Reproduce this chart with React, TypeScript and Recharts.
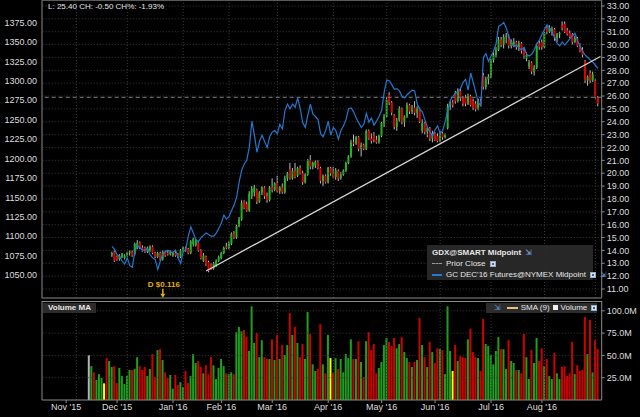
import React from "react";
import {
  ComposedChart,
  Bar,
  Line,
  XAxis,
  YAxis,
  ReferenceLine,
  ReferenceDot,
  Cell,
} from "recharts";

const FONT = "'Liberation Sans', Arial, sans-serif";
const AXIS = "#8a8a8a";
const GRID = "#3c3c3c";
const TXT = "#dedede";

// slot index 0 = first trading day of Nov 2015
const FIRST_SLOT = -9;
const LAST_SLOT = 210;
const GDX_START = 18;
const VOL_START = 9;

const monthTicks = [0, 20, 42, 61, 81, 103, 124, 145, 167, 187];
const monthLabels = ["Nov '15", "Dec '15", "Jan '16", "Feb '16", "Mar '16", "Apr '16", "May '16", "Jun '16", "Jul '16", "Aug '16"];
const gridDays = [4, 24, 46, 64, 83, 105, 126, 147, 167, 188, 208];
const goldTicks = [1050, 1075, 1100, 1125, 1150, 1175, 1200, 1225, 1250, 1275, 1300, 1325, 1350, 1375];
const gdxTicks = [11, 12, 13, 14, 15, 16, 17, 18, 19, 20, 21, 22, 23, 24, 25, 26, 27, 28, 29, 30, 31, 32, 33];
const volTicks = [25, 50, 75, 100];

const priorClose = 25.9;
const trendFrom = { i: 55, v: 12.4 };
const trendTo = { i: 210, v: 29.07 };
const dividend = { i: 38, label: "D $0.116" };

// GDX@SMART midpoint candles: [open, high, low, close]
const gdxOHLC = [
  [13.6, 13.9, 13.5, 13.8], [13.9, 14.0, 13.1, 13.2], [13.5, 13.6, 13.2, 13.3], [13.3, 13.7, 13.2, 13.6], [13.5, 13.8, 13.4, 13.7],
  [13.4, 13.7, 13.3, 13.6], [13.6, 13.9, 13.5, 13.8], [13.8, 14.0, 13.6, 13.9], [13.9, 14.0, 13.5, 13.6], [13.7, 14.6, 13.6, 14.5],
  [14.2, 14.8, 14.1, 14.6], [14.6, 14.7, 14.1, 14.2], [14.2, 14.4, 13.9, 14.0], [14.2, 14.3, 13.8, 13.9], [13.9, 14.3, 13.8, 14.2],
  [14.0, 14.4, 13.9, 14.3], [14.3, 14.4, 13.7, 13.8], [13.8, 13.9, 13.4, 13.5], [13.5, 13.9, 13.4, 13.8], [13.8, 13.9, 13.2, 13.3],
  [13.3, 14.0, 13.2, 13.9], [13.9, 14.0, 13.5, 13.6], [13.8, 14.0, 13.6, 13.7], [13.7, 14.0, 13.6, 13.9], [13.6, 13.9, 13.5, 13.8],
  [13.8, 14.0, 13.5, 13.6], [13.7, 13.8, 13.4, 13.5], [13.5, 14.1, 13.4, 14.0], [14.0, 14.3, 13.9, 14.2], [14.2, 14.3, 13.9, 14.0],
  [14.1, 14.2, 13.7, 13.8], [13.8, 14.8, 13.7, 14.7], [14.5, 15.0, 14.3, 14.9], [14.4, 14.9, 14.3, 14.7], [14.6, 14.7, 13.9, 14.0],
  [14.0, 14.1, 13.3, 13.4], [13.2, 13.8, 13.1, 13.6], [13.5, 13.6, 12.8, 12.9], [13.1, 13.2, 12.3, 12.4], [12.9, 13.0, 12.5, 12.6],
  [12.6, 13.1, 12.5, 13.0], [12.8, 13.3, 12.7, 13.2], [13.2, 13.6, 13.1, 13.5], [13.4, 13.9, 13.3, 13.8], [13.8, 14.3, 13.7, 14.2],
  [14.3, 14.6, 14.1, 14.2], [14.2, 14.7, 14.1, 14.6], [14.5, 15.4, 14.4, 15.3], [15.3, 15.5, 14.9, 15.0], [15.0, 16.0, 14.9, 15.9],
  [15.9, 16.6, 15.8, 16.4], [16.4, 17.9, 16.3, 17.7], [17.8, 17.9, 17.2, 17.3], [17.6, 17.8, 17.0, 17.1], [17.1, 18.6, 17.0, 18.4],
  [18.2, 19.0, 18.0, 18.8], [18.5, 19.1, 18.2, 18.9], [18.7, 18.8, 17.6, 17.8], [17.8, 18.6, 17.7, 18.5], [18.5, 19.0, 18.3, 18.9],
  [18.9, 19.0, 18.0, 18.2], [18.2, 18.5, 17.7, 17.9], [17.9, 19.0, 17.8, 18.9], [18.9, 19.6, 18.5, 18.7], [18.7, 19.3, 18.6, 19.2],
  [19.2, 19.8, 18.5, 18.6], [18.6, 19.0, 18.4, 18.9], [18.9, 19.2, 18.4, 18.5], [18.5, 19.8, 18.4, 19.6], [19.6, 20.1, 19.4, 20.0],
  [20.3, 20.8, 19.5, 19.6], [19.6, 20.4, 19.5, 20.2], [20.2, 20.8, 19.6, 19.7], [19.8, 20.5, 19.7, 20.4], [20.4, 20.6, 19.9, 20.0],
  [20.0, 20.2, 19.1, 19.3], [19.3, 20.0, 19.2, 19.9], [19.9, 21.1, 19.8, 21.0], [21.0, 21.4, 20.3, 20.5], [20.5, 20.9, 20.3, 20.8],
  [20.6, 21.0, 20.4, 20.9], [20.9, 21.0, 20.3, 20.4], [20.4, 20.5, 19.2, 19.4], [19.4, 19.9, 19.0, 19.8], [19.8, 19.9, 19.2, 19.3],
  [19.3, 20.5, 19.2, 20.4], [20.4, 20.5, 19.8, 20.0], [20.0, 20.5, 19.6, 19.7], [19.7, 20.4, 19.5, 20.2], [20.2, 20.3, 19.4, 19.6],
  [19.6, 20.1, 19.5, 19.9], [19.9, 20.3, 19.8, 20.2], [20.2, 20.9, 20.1, 20.8], [20.8, 21.4, 20.7, 21.3], [21.3, 22.6, 21.2, 22.4],
  [22.4, 23.0, 22.1, 22.3], [22.3, 22.9, 22.2, 22.8], [22.8, 22.9, 21.7, 21.9], [21.9, 22.4, 21.3, 22.2], [22.2, 22.3, 21.8, 21.9],
  [21.9, 23.4, 21.8, 23.3], [23.3, 23.4, 22.6, 22.7], [22.7, 23.1, 22.3, 22.5], [22.9, 23.2, 22.4, 22.6], [22.6, 22.9, 22.3, 22.4],
  [22.4, 23.0, 22.3, 22.9], [22.9, 24.0, 22.8, 23.9], [23.9, 24.6, 23.6, 24.4], [24.4, 25.9, 24.3, 25.7], [26.1, 26.3, 25.3, 25.5],
  [25.5, 25.6, 24.5, 24.7], [24.5, 24.6, 23.4, 23.6], [23.6, 24.3, 23.3, 24.1], [24.1, 25.2, 24.0, 25.0], [25.0, 25.1, 23.8, 24.0],
  [24.0, 24.5, 23.6, 24.4], [24.4, 25.5, 24.3, 25.3], [25.3, 25.4, 24.6, 24.8], [24.8, 25.3, 24.6, 25.1], [25.1, 25.6, 24.5, 24.7],
  [24.7, 25.2, 24.3, 25.0], [25.0, 25.1, 23.9, 24.0], [23.3, 24.2, 23.1, 23.9], [23.9, 24.0, 23.0, 23.2], [23.2, 23.6, 22.8, 23.5],
  [23.5, 23.6, 22.5, 22.7], [22.7, 23.3, 22.4, 23.1], [23.1, 23.2, 22.5, 22.6], [22.9, 23.1, 22.4, 22.5], [22.5, 23.3, 22.4, 23.1],
  [23.1, 23.2, 22.6, 22.8], [22.8, 23.1, 22.7, 23.0], [23.5, 25.4, 23.4, 25.2], [25.2, 25.6, 24.9, 25.5], [25.5, 25.7, 25.1, 25.3],
  [26.2, 26.4, 25.4, 25.6], [25.6, 26.6, 25.5, 26.4], [26.4, 26.6, 25.6, 25.8], [25.8, 26.0, 25.2, 25.4], [25.9, 26.1, 25.2, 25.4],
  [25.4, 26.2, 25.3, 26.0], [26.0, 26.1, 25.2, 25.3], [25.6, 25.8, 24.9, 25.1], [25.4, 25.6, 24.8, 25.0], [25.0, 25.8, 24.9, 25.6],
  [25.6, 25.8, 25.2, 25.4], [27.6, 27.8, 26.5, 26.7], [26.7, 27.5, 26.5, 27.3], [27.3, 27.7, 26.9, 27.5], [27.5, 28.9, 27.4, 28.8],
  [28.8, 29.4, 28.6, 29.2], [29.2, 29.8, 29.0, 29.6], [29.6, 30.6, 29.5, 30.4], [30.4, 30.6, 29.8, 30.0], [30.0, 30.8, 29.7, 30.6],
  [30.6, 30.9, 30.1, 30.7], [30.7, 30.8, 29.7, 29.9], [29.9, 30.4, 29.7, 30.3], [29.9, 30.5, 29.8, 30.2], [30.2, 30.3, 29.6, 29.8],
  [29.8, 30.3, 29.5, 30.1], [30.1, 30.2, 29.3, 29.5], [29.5, 29.7, 28.9, 29.1], [28.9, 29.4, 28.7, 29.2], [28.3, 28.8, 28.1, 28.6],
  [28.6, 28.7, 27.7, 27.9], [27.9, 28.4, 27.6, 28.2], [28.2, 30.1, 28.1, 29.9], [30.1, 30.3, 29.6, 29.8], [30.2, 30.4, 29.6, 29.8],
  [29.8, 31.0, 29.7, 30.9], [31.3, 31.5, 30.8, 31.0], [31.0, 31.5, 30.9, 31.3], [30.9, 31.4, 30.7, 31.2], [31.2, 31.3, 30.3, 30.5],
  [30.5, 30.9, 30.2, 30.8], [30.8, 31.0, 30.5, 30.9], [31.5, 31.8, 31.1, 31.3], [31.6, 31.8, 30.9, 31.0], [31.1, 31.3, 30.7, 30.8],
  [30.9, 31.1, 30.5, 30.6], [30.8, 30.9, 30.0, 30.2], [30.2, 30.7, 30.1, 30.5], [30.5, 30.6, 29.8, 29.9], [29.9, 30.1, 29.4, 29.5],
  [29.6, 29.8, 29.0, 29.2], [28.7, 28.8, 27.0, 27.2], [27.2, 27.6, 26.8, 27.5], [27.8, 28.0, 27.0, 27.2], [27.2, 27.9, 27.1, 27.7],
  [27.2, 27.3, 25.8, 25.9], [25.9, 26.0, 25.2, 25.4],
];

// GC DEC'16 Futures@NYMEX midpoint
const goldMid = [
  1087, 1083, 1076, 1074, 1068, 1064, 1072, 1062, 1060, 1080,
  1088, 1085, 1082, 1082, 1084, 1076, 1072, 1070, 1057, 1068,
  1077, 1080, 1082, 1080, 1079, 1082, 1072, 1065, 1080, 1083,
  1100, 1112, 1104, 1095, 1093, 1098, 1101, 1104, 1102, 1100,
  1100, 1104, 1110, 1117, 1127, 1122, 1125, 1133, 1140, 1150,
  1170, 1185, 1193, 1198, 1215, 1248, 1230, 1208, 1222, 1230,
  1222, 1214, 1228, 1234, 1236, 1232, 1244, 1238, 1262, 1270,
  1264, 1270, 1266, 1278, 1264, 1246, 1240, 1256, 1270, 1257,
  1254, 1250, 1232, 1228, 1236, 1248, 1230, 1240, 1236, 1225,
  1236, 1242, 1250, 1264, 1265, 1260, 1252, 1246, 1240, 1244,
  1258, 1247, 1252, 1243, 1248, 1254, 1262, 1285, 1301, 1300,
  1295, 1289, 1290, 1287, 1280, 1278, 1282, 1285, 1288, 1287,
  1270, 1263, 1260, 1250, 1240, 1234, 1229, 1237, 1242, 1232,
  1236, 1248, 1262, 1275, 1280, 1284, 1286, 1290, 1298, 1302,
  1288, 1310, 1298, 1285, 1272, 1268, 1330, 1335, 1325, 1332,
  1338, 1348, 1370, 1372, 1375, 1368, 1356, 1350, 1344, 1346,
  1342, 1340, 1343, 1334, 1332, 1334, 1340, 1348, 1352, 1360,
  1366, 1372, 1368, 1362, 1356, 1348, 1345, 1350, 1346, 1350,
  1354, 1358, 1361, 1352, 1344, 1338, 1333, 1330, 1327, 1324,
  1320, 1316,
];

// volume in millions
const volume = [
  50.4, 38, 31, 22.4, 29, 24.7, 18.7, 47, 43.7, 37,
  38, 19, 36, 27, 18, 27, 33.6, 33.6, 34.7, 48,
  38, 33.6, 37, 27, 34.7, 51.6, 25.8, 56, 57, 44.8,
  31, 24.7, 28, 12.7, 28, 16.8, 20, 14.6, 32.5, 19,
  27, 51.6, 41.5, 43.7, 37, 30, 39, 29, 48, 39,
  23.5, 36, 46, 38, 30, 29, 31, 29, 76,
  82, 77, 78.5, 70.6, 55, 105, 64, 75, 48, 67,
  48, 46, 46, 68, 44.8, 73, 46, 61.6, 50.4, 61.6,
  97.5, 73, 82, 64, 48, 62.8, 46, 98.6, 74,
  40, 32.5, 34.7,
  85, 40, 30, 73, 47, 30, 47, 34.7, 46, 31,
  51.6, 47, 68, 46, 46, 66, 42.6, 25.8, 66, 76,
  56, 62.8, 30, 36, 42.6, 61.6, 69.5, 65, 60.5, 69.5,
  58, 62.8, 70.6, 53.8, 47, 42.6, 37, 42.6, 44.8, 92,
  61.6, 48, 37, 65, 53.8, 41.5, 58, 57, 56, 29,
  105, 55, 32.5, 61.6, 43.7, 49, 48, 47, 68, 80,
  53.8, 48, 47, 32.5, 91, 62.8, 60.5, 50.4, 40,
  55, 70.6, 57, 57, 34.7, 67, 43.7, 41.5, 33.6,
  33.6, 30, 74, 48, 23.5, 56, 41.5, 69.5, 43.7, 58,
  38, 46, 27, 23.5, 52.6, 30, 23.5, 37,
  38, 27, 30, 65, 29, 39, 32.5, 33.6, 93, 51.6, 90, 31, 67, 57,
];

// w = grey, g = up, r = down, y = yellow
const volColors = [
  "wgrgggyrgg", "rrgggggrgg", "rrrggrrgrg", "rrggrrggrr", "gggrrgrrrg",
  "ggggrggrg", "ggrrgggrgg", "rrgrgrgrgg", "rgrg", "rrggr", "ggr",
  "rgrgyrgrgg", "gggrgrgrgr", "rrrggggrrr", "ggrggrgrgr", "grgrgrrgrg",
  "ggyrgrrrgr", "rrgrrgggg", "ggrggrggr", "grrggrggrr", "grggrggr",
  "rrrrgrrrrgrgrr",
].join("");

const VOL_FILL: Record<string, string> = {
  w: "#b4b4b4",
  g: "#1f9f1f",
  r: "#d00000",
  y: "#ffff00",
};

const slots = Array.from({ length: LAST_SLOT - FIRST_SLOT + 1 }, (_, k) => FIRST_SLOT + k);

const priceRows = slots.map((i) => {
  const bar = gdxOHLC[i - GDX_START];
  const g = goldMid[i - GDX_START];
  if (!bar) return { i, gold: null };
  return { i, o: bar[0], h: bar[1], l: bar[2], c: bar[3], hl: [bar[2], bar[1]], gold: g };
});

const volRows = slots.map((i) => ({
  i,
  vol: volume[i - VOL_START] ?? null,
  col: volColors[i - VOL_START] ?? "",
}));

function Candle(props: any) {
  const { x, y, width, height, payload } = props;
  if (!payload || payload.o == null) return <g />;
  const { o, h, l, c } = payload;
  const top = height < 0 ? y + height : y;
  const hh = Math.abs(height);
  const k = h > l ? hh / (h - l) : 0;
  const cx = x + width / 2;
  const bTop = top + (h - Math.max(o, c)) * k;
  const bBot = top + (h - Math.min(o, c)) * k;
  return (
    <g>
      <line x1={cx} x2={cx} y1={top} y2={top + hh} stroke="#bdbdbd" strokeWidth={1} />
      <rect
        x={cx - 1}
        y={bTop}
        width={2}
        height={Math.max(1, bBot - bTop)}
        fill={c >= o ? "#22b422" : "#e00000"}
      />
    </g>
  );
}

function DividendMark(props: any) {
  const { cx, cy } = props;
  const col = "#e3b00c";
  return (
    <g>
      <text x={cx + 1} y={cy - 10} fill={col} fontSize={8} fontWeight="bold" textAnchor="middle" fontFamily={FONT}>
        {dividend.label}
      </text>
      <line x1={cx} x2={cx} y1={cy - 8} y2={cy - 2} stroke={col} strokeWidth={1.5} />
      <path d={`M${cx - 2.5},${cy - 3} L${cx + 2.5},${cy - 3} L${cx},${cy + 1} Z`} fill={col} />
    </g>
  );
}

function CheckBox({ on = true }: { on?: boolean }) {
  return (
    <span
      style={{
        display: "inline-block",
        width: 6,
        height: 6,
        marginLeft: 4,
        background: on ? "#d8e4f4" : "#f0f0f0",
        border: "1px solid #9ab",
        boxSizing: "border-box",
        verticalAlign: "middle",
        position: "relative",
      }}
    >
      {on && (
        <span style={{ position: "absolute", left: 1, top: 1, width: 2, height: 2, background: "#2a62b8" }} />
      )}
    </span>
  );
}

function Grab() {
  return <span style={{ color: "#6a9fd8", fontSize: 8, marginLeft: 4, fontFamily: "DejaVu Sans" }}>⇲</span>;
}

const tickStyle = { fill: TXT, fontSize: 9, fontFamily: FONT };

export default function App() {
  return (
    <div
      style={{
        position: "fixed",
        left: 0,
        top: 0,
        width: 640,
        height: 417,
        background: "#000",
        fontFamily: FONT,
        overflow: "hidden",
      }}
    >
      <div style={{ position: "absolute", left: 0, top: 0 }}>
        <ComposedChart width={640} height={299} data={priceRows} margin={{ top: 0, right: 0, bottom: 0, left: 0 }}>
          <XAxis dataKey="i" type="category" height={1} tick={false} tickLine={false} axisLine={{ stroke: AXIS }} />
          <YAxis
            yAxisId="gold"
            orientation="left"
            width={42}
            domain={[1020.4, 1404]}
            ticks={goldTicks}
            interval={0}
            allowDataOverflow
            tickFormatter={(v: number) => v.toFixed(2)}
            tick={tickStyle}
            tickSize={3}
            tickMargin={2}
            tickLine={false}
            axisLine={{ stroke: AXIS }}
          />
          <YAxis
            yAxisId="gdx"
            orientation="right"
            width={38.3}
            domain={[10.3, 33.466]}
            ticks={gdxTicks}
            interval={0}
            allowDataOverflow
            tickFormatter={(v: number) => v.toFixed(2)}
            tick={tickStyle}
            tickSize={3}
            tickMargin={2}
            tickLine={{ stroke: AXIS }}
            axisLine={{ stroke: AXIS }}
          />
          {gdxTicks.map((t) => (
            <ReferenceLine key={"h" + t} yAxisId="gdx" y={t} stroke={GRID} strokeDasharray="1 2" />
          ))}
          {gridDays.map((d) => (
            <ReferenceLine key={"v" + d} yAxisId="gdx" x={d} stroke={GRID} strokeDasharray="1 2" />
          ))}
          <ReferenceLine yAxisId="gdx" y={priorClose} stroke="#7c7c7c" strokeDasharray="4 3" />
          <Bar
            yAxisId="gdx"
            dataKey="hl"
            barSize={3}
            shape={(p: any) => <Candle {...p} />}
            isAnimationActive={false}
          />
          <Line
            yAxisId="gold"
            dataKey="gold"
            stroke="#2378cf"
            strokeWidth={1.2}
            dot={false}
            activeDot={false}
            isAnimationActive={false}
          />
          <ReferenceLine
            yAxisId="gdx"
            segment={[
              { x: trendFrom.i, y: trendFrom.v },
              { x: trendTo.i, y: trendTo.v },
            ]}
            stroke="#d6d6d6"
            strokeWidth={1.3}
          />
          <ReferenceDot yAxisId="gdx" x={dividend.i} y={10.4} shape={(p: any) => <DividendMark {...p} />} />
        </ComposedChart>
      </div>

      <div style={{ position: "absolute", left: 0, top: 301 }}>
        <ComposedChart width={640} height={113} data={volRows} margin={{ top: 0, right: 0, bottom: 0, left: 0 }}>
          <XAxis
            dataKey="i"
            type="category"
            ticks={monthTicks}
            interval={0}
            tickFormatter={(v: number) => monthLabels[monthTicks.indexOf(v)] ?? ""}
            height={14}
            tick={tickStyle}
            tickSize={3}
            tickMargin={1}
            axisLine={{ stroke: AXIS }}
            tickLine={{ stroke: AXIS }}
          />
          <YAxis yAxisId="l" width={42} domain={[0, 111]} allowDataOverflow tick={false} tickLine={false} axisLine={{ stroke: AXIS }} />
          <YAxis
            yAxisId="v"
            orientation="right"
            width={38.3}
            domain={[0, 111]}
            ticks={volTicks}
            interval={0}
            allowDataOverflow
            tickFormatter={(v: number) => v.toFixed(1) + "M"}
            tick={tickStyle}
            tickSize={3}
            tickMargin={2}
            tickLine={{ stroke: AXIS }}
            axisLine={{ stroke: AXIS }}
          />
          {volTicks.map((t) => (
            <ReferenceLine key={"vh" + t} yAxisId="v" y={t} stroke={GRID} strokeDasharray="1 2" />
          ))}
          {gridDays.map((d) => (
            <ReferenceLine key={"vv" + d} yAxisId="v" x={d} stroke={GRID} strokeDasharray="1 2" />
          ))}
          <Bar yAxisId="v" dataKey="vol" barSize={2} isAnimationActive={false}>
            {volRows.map((r) => (
              <Cell key={r.i} fill={VOL_FILL[r.col] ?? "transparent"} />
            ))}
          </Bar>
        </ComposedChart>
      </div>

      {/* panel borders */}
      <div style={{ position: "absolute", left: 42, top: 0, width: 560, height: 1, background: "#5a5a5a" }} />
      <div style={{ position: "absolute", left: 42, top: 301, width: 560, height: 1, background: AXIS }} />

      {/* header */}
      <div style={{ position: "absolute", left: 48, top: 2, fontSize: 8, color: "#e4e4e4", whiteSpace: "nowrap" }}>
        L: 25.40 CH: -0.50 CH%: -1.93%
      </div>

      {/* price legend */}
      <div
        style={{
          position: "absolute",
          left: 427,
          top: 245,
          width: 166,
          height: 35,
          background: "rgba(42,42,42,0.92)",
          color: "#e6e6e6",
          fontSize: 8,
          lineHeight: "11px",
          padding: "2px 0 0 5px",
          boxSizing: "border-box",
          whiteSpace: "nowrap",
        }}
      >
        <div style={{ fontWeight: "bold" }}>
          GDX@SMART Midpoint
          <Grab />
        </div>
        <div>
          <span style={{ display: "inline-block", width: 10, borderTop: "1px dashed #9a9a9a", verticalAlign: "middle", marginRight: 4 }} />
          Prior Close
          <CheckBox />
        </div>
        <div>
          <span style={{ display: "inline-block", width: 10, height: 2, background: "#2378cf", verticalAlign: "middle", marginRight: 4 }} />
          GC DEC'16 Futures@NYMEX Midpoint
          <CheckBox />
          <Grab />
        </div>
      </div>

      {/* volume labels */}
      <div
        style={{
          position: "absolute",
          left: 43,
          top: 303,
          width: 53,
          height: 10,
          background: "#2c2c2c",
          color: "#e8e8e8",
          fontSize: 8,
          fontWeight: "bold",
          lineHeight: "10px",
          paddingLeft: 5,
          boxSizing: "border-box",
        }}
      >
        Volume MA
      </div>
      <div
        style={{
          position: "absolute",
          left: 486,
          top: 303,
          width: 111,
          height: 10,
          background: "#2c2c2c",
          color: "#e8e8e8",
          fontSize: 8,
          lineHeight: "10px",
          paddingLeft: 4,
          boxSizing: "border-box",
          whiteSpace: "nowrap",
        }}
      >
        <Grab />
        <span style={{ display: "inline-block", width: 11, height: 2, background: "#e8c080", verticalAlign: "middle", margin: "0 3px 0 6px" }} />
        SMA (9)
        <span style={{ display: "inline-block", width: 5, height: 5, background: "#f0f0f0", margin: "0 3px", verticalAlign: "middle" }} />
        Volume
        <CheckBox />
      </div>
    </div>
  );
}
